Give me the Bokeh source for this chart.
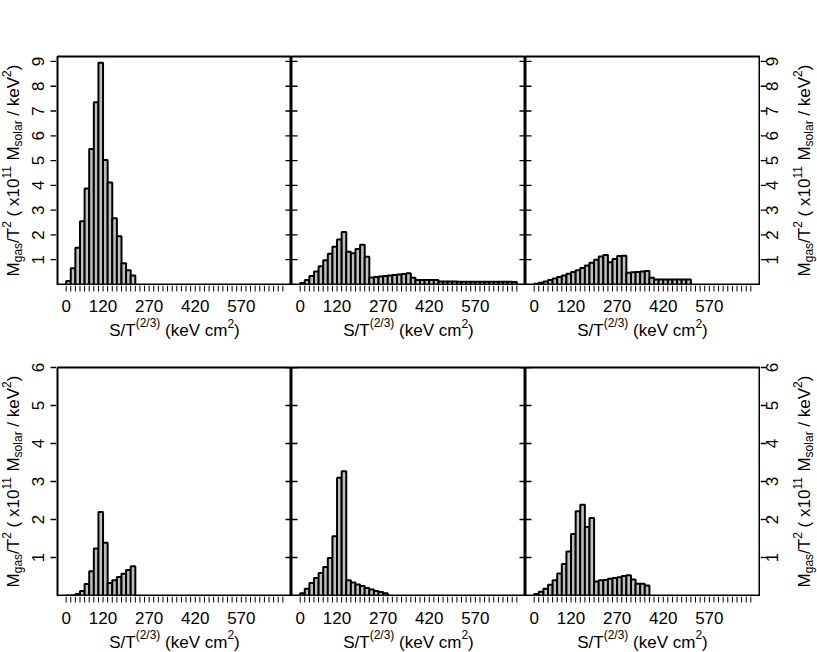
import math
from bokeh.plotting import figure
from bokeh.models import Range1d, Label, Spacer
from bokeh.core.properties import value
from bokeh.layouts import row, column
from bokeh.embed import file_html
from bokeh.resources import INLINE

# ---------------- data (histogram heights, bins of 15 keV cm^2 starting at 0) ----------------
BIN_WIDTH = 15
top_left = [0.14, 0.66, 1.48, 2.55, 3.87, 5.47, 7.35, 8.95, 5.02, 4.12, 2.67, 1.95, 0.86, 0.57, 0.36]
top_mid = [0.06, 0.18, 0.34, 0.52, 0.74, 0.98, 1.24, 1.52, 1.82, 2.12, 1.32, 1.26, 1.43, 1.60, 1.12,
           0.28, 0.30, 0.32, 0.34, 0.36, 0.38, 0.40, 0.42, 0.45, 0.27, 0.18, 0.18, 0.18, 0.18, 0.18,
           0.12, 0.12, 0.12, 0.12, 0.11, 0.11, 0.11, 0.11, 0.11, 0.11, 0.11, 0.11, 0.11, 0.11, 0.11,
           0.11, 0.10]
top_right = [0.03, 0.07, 0.12, 0.18, 0.24, 0.30, 0.36, 0.43, 0.50, 0.58, 0.67, 0.77, 0.88, 1.00, 1.13,
             1.19, 0.90, 1.03, 1.15, 1.16, 0.47, 0.49, 0.50, 0.52, 0.54, 0.27, 0.20, 0.20, 0.20, 0.20,
             0.20, 0.20, 0.20, 0.20]
bottom_left = [0.0, 0.0, 0.04, 0.12, 0.30, 0.64, 1.24, 2.20, 1.39, 0.33, 0.40, 0.49, 0.57, 0.67, 0.77]
bottom_mid = [0.06, 0.18, 0.33, 0.46, 0.59, 0.75, 0.99, 1.56, 3.10, 3.27, 0.40, 0.34, 0.29, 0.25, 0.20,
              0.16, 0.12, 0.09, 0.06]
bottom_right = [0.04, 0.10, 0.18, 0.28, 0.40, 0.58, 0.83, 1.16, 1.62, 2.22, 2.39, 1.80, 2.04, 0.37, 0.40,
                0.41, 0.44, 0.46, 0.48, 0.51, 0.53, 0.42, 0.31, 0.31, 0.26]

x_labels = [0, 120, 270, 420, 570]
x_minor = list(range(0, 706, BIN_WIDTH))
y_ticks_top = [1, 2, 3, 4, 5, 6, 7, 8, 9]
y_ticks_bottom = [1, 2, 3, 4, 5, 6]
x_limits = (-28.2, 733.2)
y_limits_top = (0, 9.2)
y_limits_bottom = (0, 6)

FONT = "Liberation Sans"
MAIN = 17
SCRIPT = 12
MID = 0.3465                # distance baseline -> middle of the em box, in em
SHIFT = {"n": 0, "sup": 9, "sub": -3}
SIZE = {"n": MAIN, "sup": SCRIPT, "sub": SCRIPT}
ADV = {' ': 278, '(': 333, ')': 333, '/': 278, 'M': 833, 'T': 611, 'S': 667, 'V': 667,
       'a': 556, 'e': 556, 'g': 556, 'k': 500, 'l': 222, 'm': 833, 'o': 556, 'r': 333,
       's': 500, 'x': 500, 'c': 500}
for d in "0123456789":
    ADV[d] = 556

xtitle = [("S/T", "n"), ("(2/3)", "sup"), (" (keV cm", "n"), ("2", "sup"), (")", "n")]
ytitle = [("M", "n"), ("gas", "sub"), ("/T", "n"), ("2", "sup"), (" ( x10", "n"), ("11", "sup"),
          (" M", "n"), ("solar", "sub"), (" / keV", "n"), ("2", "sup"), (")", "n")]

# ---------------- geometry (pixels) ----------------
FW, FH = 234, 228          # plot frame size
LW, RW = 56, 57            # side strips (y tick labels + titles)
TOP_A, TOP_B = 56, 6       # space above the frames of row A / row B
XA_H, XB_H = 76, 56        # strips below each row (x tick labels + titles)
TICK = 6


def place(p, pieces, c, base, vertical):
    """base = baseline position of the main text (px, measured outward/downward)."""
    widths = [sum(ADV[ch] for ch in t) * SIZE[k] / 1000.0 for t, k in pieces]
    pos = -sum(widths) / 2.0
    for (t, k), w in zip(pieces, widths):
        s = t.strip()
        lead = (len(t) - len(t.lstrip())) * ADV[' '] * SIZE[k] / 1000.0
        mid = base - SHIFT[k] - MID * SIZE[k]
        common = dict(text=s, text_font=FONT, text_font_size=f"{SIZE[k]}px", text_color="black",
                      text_baseline="middle", text_align="left")
        if vertical:
            p.add_layout(Label(x=mid, x_units="data", y=c + pos + lead, y_units="screen",
                               angle=math.pi / 2, **common))
        else:
            p.add_layout(Label(x=c + pos + lead, x_units="screen", y=mid, y_units="data", **common))
        pos += w


def plain(fw, fh, xr, yr, left=0, right=0, top=0, bottom=0):
    p = figure(frame_width=fw, frame_height=fh, x_range=xr, y_range=yr, title=None,
               output_backend="svg", toolbar_location=None, tools="",
               x_axis_location=None, y_axis_location=None, min_border=0,
               min_border_left=left, min_border_right=right,
               min_border_top=top, min_border_bottom=bottom,
               background_fill_color="white", border_fill_color="white")
    try:
        p.frame_align = False
    except Exception:
        pass
    p.outline_line_color = None
    for g in p.grid:
        g.visible = False
    return p


def panel(values, col, toprow):
    yl = y_limits_top if toprow else y_limits_bottom
    yt = y_ticks_top if toprow else y_ticks_bottom
    lb = 1 if col == 0 else 0
    rb = 1 if col == 2 else 0
    tb = TOP_A if toprow else TOP_B
    p = plain(FW, FH, Range1d(*x_limits), Range1d(*yl), left=lb, right=rb, top=tb, bottom=1)
    p.outline_line_color = "black"
    p.outline_line_width = 2

    left_edges = [i * BIN_WIDTH for i in range(len(values))]
    right_edges = [e + BIN_WIDTH for e in left_edges]
    p.quad(left=left_edges, right=right_edges, bottom=0, top=values,
           fill_color="#bebebe", line_color="black", line_width=2)

    # ticks of the neighbouring panels that point into this one
    if col > 0:
        p.ray(x=[x_limits[0]] * len(yt), y=yt, length=TICK, angle=0, length_units="screen",
              line_color="black", line_width=1.3)
    if col < 2:
        p.ray(x=[x_limits[1]] * len(yt), y=yt, length=TICK, angle=math.pi, length_units="screen",
              line_color="black", line_width=1.3)
    return p


def x_strip(col, height, label_base, title_base):
    lb = 1 if col == 0 else 0
    rb = 1 if col == 2 else 0
    p = plain(FW, height, Range1d(*x_limits), Range1d(height, 0), left=lb, right=rb)
    p.segment(x0=x_minor, y0=[0] * len(x_minor), x1=x_minor, y1=[TICK] * len(x_minor),
              line_color="black", line_width=1)
    p.text(x=x_labels, y=[label_base - MID * MAIN] * len(x_labels), text=[str(v) for v in x_labels],
           text_font=value(FONT), text_font_size=value(f"{MAIN}px"), text_color="black",
           text_align="center", text_baseline="middle")
    place(p, xtitle, FW / 2.0, title_base, vertical=False)
    return p


def y_strip(side, toprow):
    yl = y_limits_top if toprow else y_limits_bottom
    yt = y_ticks_top if toprow else y_ticks_bottom
    tb = TOP_A if toprow else TOP_B
    h = FH + tb + 1
    per_px = (yl[1] - yl[0]) / FH
    yr = Range1d(yl[0] - 1 * per_px, yl[1] + tb * per_px)
    w = LW if side == "left" else RW
    p = plain(w, h, Range1d(0, w), yr)
    if side == "left":
        p.segment(x0=[w - TICK] * len(yt), y0=yt, x1=[w] * len(yt), y1=yt,
                  line_color="black", line_width=1.3)
        lab_base, title_base = 43, 19
    else:
        p.segment(x0=[0] * len(yt), y0=yt, x1=[TICK] * len(yt), y1=yt,
                  line_color="black", line_width=1.3)
        lab_base, title_base = 17, 50
    p.text(x=[lab_base - MID * MAIN] * len(yt), y=yt, text=[str(v) for v in yt], angle=math.pi / 2,
           text_font=value(FONT), text_font_size=value(f"{MAIN}px"), text_color="black",
           text_align="center", text_baseline="middle")
    place(p, ytitle, 1 + FH / 2.0, title_base, vertical=True)
    return p


row_a = row(y_strip("left", True),
            *[panel(v, i, True) for i, v in enumerate([top_left, top_mid, top_right])],
            y_strip("right", True), spacing=0)
strip_a = row(Spacer(width=LW, height=XA_H),
              *[x_strip(i, XA_H, 26.7, 51) for i in range(3)],
              Spacer(width=RW, height=XA_H), spacing=0)
row_b = row(y_strip("left", False),
            *[panel(v, i, False) for i, v in enumerate([bottom_left, bottom_mid, bottom_right])],
            y_strip("right", False), spacing=0)
strip_b = row(Spacer(width=LW, height=XB_H),
              *[x_strip(i, XB_H, 27.3, 51.5) for i in range(3)],
              Spacer(width=RW, height=XB_H), spacing=0)

layout = column(row_a, strip_a, row_b, strip_b, spacing=0)

with open("out.html", "w") as f:
    f.write(file_html(layout, INLINE))
